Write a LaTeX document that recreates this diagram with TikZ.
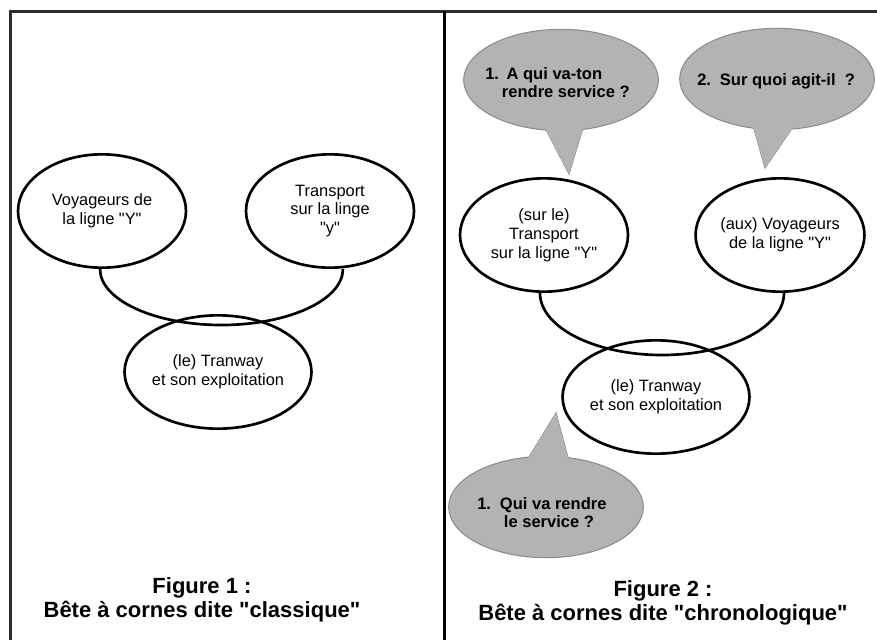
\documentclass[tikz,border=0pt]{standalone}
\usepackage{fontspec}
\setmainfont{Liberation Sans}[Ligatures=TeXOff]
\usetikzlibrary{shapes.geometric,calc}
\definecolor{bubfill}{RGB}{179,179,179}
\definecolor{bubline}{RGB}{140,140,140}
\definecolor{framecol}{RGB}{45,45,45}
\begin{document}
\begin{tikzpicture}[x=0.75pt,y=-0.75pt,
  ell/.style={ellipse,draw=black,line width=2pt,minimum width=126pt,minimum height=85pt,inner sep=0pt,align=center,font=\fontsize{12.3}{14.2}\selectfont},
  bub/.style={ellipse,draw=bubline,fill=bubfill,line width=0.8pt,minimum width=146pt,minimum height=76pt,inner sep=0pt},
  tail/.style={draw=bubline,fill=bubfill,line width=0.8pt,line join=miter},
  horn/.style={draw=black,line width=2pt},
  btxt/.style={inner sep=0pt,align=left,font=\bfseries\fontsize{12.4}{13.5}\selectfont},
  title/.style={inner sep=0pt,align=center,font=\bfseries\fontsize{16.5}{18}\selectfont},
  frame/.style={line width=2.25pt,draw=framecol}
]
\useasboundingbox (0,0) rectangle (877,639);
\fill[white] (0,0) rectangle (877,639);
% frame
\coordinate (fTL) at (10,11);
\coordinate (fTR) at (880,11);
\coordinate (fBL) at (10,642);
\coordinate (mT) at (444,11);
\coordinate (mB) at (444,642);
\draw[frame] (fBL) -- (fTL) -- (fTR);
\draw[frame,draw=black] (mT) -- (mB);

% left panel
\node[ell] (voy1) at (102,211) {Voyageurs de\\la ligne "Y"};
\node[ell] (tra1) at (330,211) {Transport\\sur la linge\\"y"};
\node[ell] (tram1) at (218,372) {(le) Tranway\\et son exploitation};
\draw[horn] ($(voy1.south)+(-2,0)$) arc[start angle=180,end angle=360,x radius=91.1pt,y radius=42pt];
\node[title,anchor=north] (fig1) at (202,577) {Figure 1 :\\Bête à cornes dite "classique"};

% right panel
\node[ell] (tra2) at (544,235) {(sur le)\\Transport\\sur la ligne "Y"};
\node[ell] (voy2) at (780,235) {(aux) Voyageurs\\de la ligne "Y"};
\node[ell] (tram2) at (656,397) {(le) Tranway\\et son exploitation};
\draw[horn] ($(tra2.south)+(-4,0)$) arc[start angle=180,end angle=360,x radius=91.5pt,y radius=46.5pt];

% bubble 1
\coordinate (b1l) at (540,118);
\coordinate (b1t) at (569,174);
\coordinate (b1r) at (586,118);
\draw[tail] (b1l) -- (b1t) -- (b1r) -- cycle;
\node[bub] (bub1) at (561,80) {};
\fill[bubfill] (b1l) -- (b1t) -- (b1r) -- cycle;
\node[btxt,anchor=north west] (q1) at (485,67.2) {\makebox[16pt][l]{1.}A qui va-ton\\\hspace*{12.5pt}rendre service ?};

% bubble 2
\coordinate (b2l) at (751,118);
\coordinate (b2t) at (765,168);
\coordinate (b2r) at (799,118);
\draw[tail] (b2l) -- (b2t) -- (b2r) -- cycle;
\node[bub] (bub2) at (777,79) {};
\fill[bubfill] (b2l) -- (b2t) -- (b2r) -- cycle;
\node[btxt,anchor=base west] (q2) at (697,85) {\makebox[17pt][l]{2.}Sur quoi agit-il\ \ ?};

% bubble 3
\coordinate (b3l) at (524,465);
\coordinate (b3t) at (556,413);
\coordinate (b3r) at (570,465);
\draw[tail] (b3l) -- (b3t) -- (b3r) -- cycle;
\node[bub] (bub3) at (546,507) {};
\fill[bubfill] (b3l) -- (b3t) -- (b3r) -- cycle;
\node[btxt,anchor=north west] (q3) at (477,497.2) {\makebox[17pt][l]{1.}Qui va rendre\\\hspace*{20pt}le service ?};

\node[title,anchor=north] (fig2) at (663,580) {Figure 2 :\\Bête à cornes dite "chronologique"};
\end{tikzpicture}
\end{document}
